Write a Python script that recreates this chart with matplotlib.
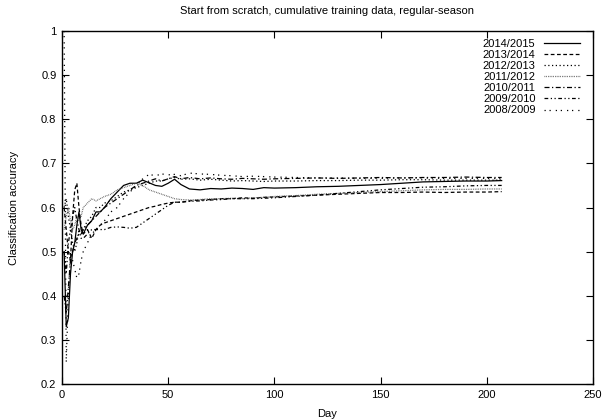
import matplotlib
matplotlib.use("Agg")
import matplotlib.pyplot as plt

plt.rcParams['font.family'] = ['Liberation Sans', 'DejaVu Sans']

days = [1, 2, 3, 4, 5, 6, 7, 8, 9, 10, 12, 14, 16, 18, 20, 23, 26, 29, 32, 35, 38, 41, 44, 47,
        50, 53, 56, 60, 65, 70, 75, 80, 85, 90, 95, 100, 110, 120, 130, 140, 150, 160, 170,
        180, 190, 200, 207]

s2014 = [0.50, 0.33, 0.35, 0.45, 0.50, 0.52, 0.56, 0.59, 0.55, 0.54, 0.56, 0.57, 0.59, 0.59,
         0.60, 0.62, 0.635, 0.65, 0.655, 0.655, 0.662, 0.656, 0.65, 0.648, 0.655, 0.664, 0.652,
         0.642, 0.64, 0.643, 0.642, 0.644, 0.643, 0.641, 0.645, 0.644, 0.645, 0.647, 0.648,
         0.65, 0.652, 0.655, 0.658, 0.659, 0.66, 0.66, 0.661]
s2013 = [0.60, 0.55, 0.50, 0.48, 0.58, 0.64, 0.655, 0.60, 0.56, 0.54, 0.55, 0.53, 0.55, 0.56,
         0.565, 0.57, 0.575, 0.58, 0.585, 0.59, 0.595, 0.60, 0.603, 0.607, 0.61, 0.612, 0.612,
         0.615, 0.617, 0.618, 0.62, 0.62, 0.622, 0.621, 0.623, 0.624, 0.626, 0.628, 0.63,
         0.632, 0.634, 0.634, 0.635, 0.634, 0.635, 0.635, 0.636]
s2012 = [0.60, 0.62, 0.58, 0.55, 0.52, 0.50, 0.52, 0.55, 0.54, 0.55, 0.57, 0.58, 0.60, 0.60,
         0.61, 0.615, 0.625, 0.635, 0.64, 0.645, 0.65, 0.655, 0.66, 0.66, 0.665, 0.668, 0.664,
         0.665, 0.662, 0.664, 0.662, 0.66, 0.661, 0.66, 0.659, 0.66, 0.66, 0.661, 0.661,
         0.662, 0.662, 0.663, 0.663, 0.662, 0.662, 0.662, 0.662]
s2011 = [0.55, 0.58, 0.60, 0.57, 0.55, 0.56, 0.58, 0.57, 0.58, 0.60, 0.61, 0.62, 0.615, 0.62,
         0.625, 0.63, 0.64, 0.645, 0.65, 0.655, 0.65, 0.64, 0.635, 0.63, 0.625, 0.62, 0.618,
         0.617, 0.618, 0.62, 0.62, 0.621, 0.62, 0.622, 0.623, 0.625, 0.627, 0.63, 0.632,
         0.634, 0.636, 0.638, 0.64, 0.641, 0.641, 0.642, 0.642]
s2010 = [0.40, 0.36, 0.42, 0.48, 0.50, 0.52, 0.53, 0.54, 0.54, 0.55, 0.56, 0.57, 0.58, 0.59,
         0.60, 0.61, 0.62, 0.63, 0.64, 0.65, 0.655, 0.66, 0.665, 0.66, 0.665, 0.67, 0.665,
         0.668, 0.665, 0.667, 0.665, 0.664, 0.666, 0.665, 0.664, 0.665, 0.666, 0.667, 0.666,
         0.667, 0.668, 0.667, 0.668, 0.668, 0.669, 0.668, 0.668]
s2009 = [0.50, 0.45, 0.52, 0.55, 0.58, 0.60, 0.57, 0.55, 0.53, 0.53, 0.54, 0.55, 0.55, 0.55,
         0.55, 0.555, 0.556, 0.555, 0.553, 0.555, 0.565, 0.575, 0.585, 0.595, 0.605, 0.612,
         0.612, 0.614, 0.615, 0.617, 0.618, 0.62, 0.62, 0.62, 0.621, 0.622, 0.625, 0.628,
         0.632, 0.636, 0.64, 0.643, 0.646, 0.647, 0.649, 0.65, 0.65]
s2008 = [1.00, 0.25, 0.40, 0.50, 0.48, 0.46, 0.44, 0.45, 0.48, 0.50, 0.52, 0.54, 0.55, 0.56,
         0.57, 0.59, 0.60, 0.62, 0.635, 0.65, 0.665, 0.675, 0.672, 0.676, 0.674, 0.675, 0.672,
         0.678, 0.676, 0.675, 0.673, 0.672, 0.67, 0.671, 0.67, 0.669, 0.668, 0.667, 0.667,
         0.666, 0.666, 0.667, 0.667, 0.666, 0.666, 0.666, 0.665]

labels = ['2014/2015', '2013/2014', '2012/2013', '2011/2012', '2010/2011', '2009/2010', '2008/2009']
series = [s2014, s2013, s2012, s2011, s2010, s2009, s2008]
styles = ['-', (0, (3, 2)), (0, (1, 2)), (0, (0.6, 0.8)), (0, (4, 2, 1, 2)),
          (0, (3, 2, 1, 2, 1, 2)), (0, (1, 3, 1, 4))]
colors = ['black', 'black', 'black', '#555555', 'black', 'black', 'black']

fig = plt.figure(figsize=(6.06, 4.19), dpi=100)
ax = fig.add_axes([62/606, 35/419, 531/606, 353/419])

for lab, ys, ls, c in zip(labels, series, styles, colors):
    ax.plot(days, ys, linestyle=ls, color=c, linewidth=0.9, label=lab)

ax.set_xlim(0, 250)
ax.set_ylim(0.2, 1.0)
ax.set_xticks([0, 50, 100, 150, 200, 250])
ax.set_yticks([0.2, 0.3, 0.4, 0.5, 0.6, 0.7, 0.8, 0.9, 1.0])
ax.set_yticklabels(['0.2', '0.3', '0.4', '0.5', '0.6', '0.7', '0.8', '0.9', '1'])
ax.tick_params(direction='in', length=5, width=0.8, top=True, right=True, labelsize=8, pad=4)
for sp in ax.spines.values():
    sp.set_linewidth(1.0)

ax.set_xlabel('Day', fontsize=8, labelpad=7)
ax.set_ylabel('Classification accuracy', fontsize=8, labelpad=16)
ax.set_title('Start from scratch, cumulative training data, regular-season', fontsize=8, pad=12)

leg = ax.legend(loc='upper right', markerfirst=False, frameon=False, fontsize=8,
                handlelength=3.2, handletextpad=0.8, labelspacing=0.1,
                borderaxespad=0.3, bbox_to_anchor=(0.99, 1.0))

fig.savefig('out.png', dpi=100)
